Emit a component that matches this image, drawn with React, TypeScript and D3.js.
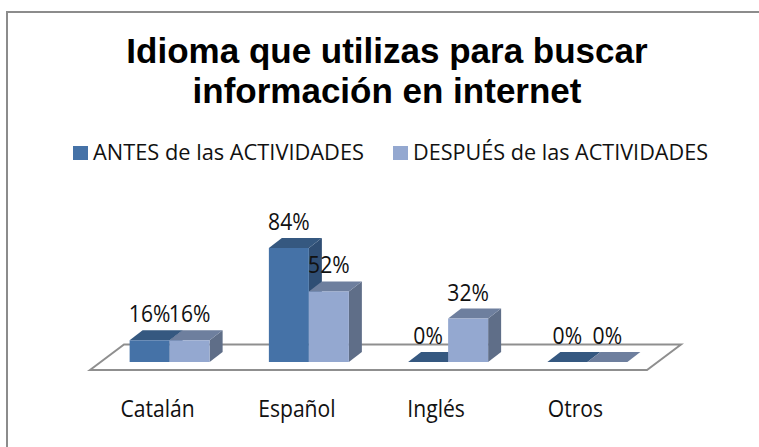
import React from 'react';
import * as d3 from 'd3';

const categories = ['Catalán', 'Español', 'Inglés', 'Otros'];
const seriesNames = ['ANTES de las ACTIVIDADES', 'DESPUÉS de las ACTIVIDADES'];
const antes = [16, 84, 0, 0];
const despues = [16, 52, 32, 0];
const titleLines = ['Idioma que utilizas para buscar', 'información en internet'];

const W = 759;
const H = 447;
const font = '"Open Sans", "Noto Sans", sans-serif';
const titleFont = '"Liberation Sans", Arial, sans-serif';

// front of the plot, the floor is drawn in fake 3D around it
const baseY = 362;
const depthX = 13;
const depthY = -10;
const squeeze = 0.88;

const x0 = d3.scaleBand().domain(categories).range([100, 657]);
const x1 = d3.scaleBand().domain(['a', 'd']).range([0, 80]);
const y = d3.scaleLinear().domain([0, 84]).range([baseY, 248]);

const colors = {
  a: { front: '#4572a7', top: '#355880', side: '#2f4e74' },
  d: { front: '#94a8d0', top: '#6e7f9e', side: '#5f6e88' },
};

const poly = (pts: [number, number][]) => d3.line()(pts) + 'Z';

function Bar({ x, w, v, c }: { x: number; w: number; v: number; c: typeof colors.a }) {
  const t = y(v);
  return (
    <g>
      {v > 0 && <path d={poly([[x + w, t], [x + w + depthX, t + depthY], [x + w + depthX, baseY + depthY], [x + w, baseY]])} fill={c.side} />}
      <path d={poly([[x, t], [x + depthX, t + depthY], [x + w + depthX, t + depthY], [x + w, t]])} fill={c.top} />
      {v > 0 && <rect x={x} y={t} width={w} height={baseY - t} fill={c.front} />}
    </g>
  );
}

function Label({ x, y, children }: { x: number; y: number; children: React.ReactNode }) {
  return (
    <text transform={`translate(${x},${y}) scale(${squeeze},1)`} textAnchor="middle" fontFamily={font} fontSize={24} fill="#111">
      {children}
    </text>
  );
}

export default function App() {
  const offset = (x0.bandwidth() - 80) / 2;
  const groupX = (cat: string) => (x0(cat) as number) + offset;
  const w = x1.bandwidth();
  return (
    <svg width={W} height={H} style={{ position: 'absolute', left: 0, top: 0, background: '#fff' }}>
      {/* only the top and left of the frame are in the picture */}
      <rect x={7} y={12} width={800} height={500} fill="#fff" stroke="#8c8c8c" strokeWidth={2} />

      {titleLines.map((l, i) => (
        <text key={l} x={387} y={63 + i * 40} textAnchor="middle" fontFamily={titleFont} fontWeight="bold" fontSize={35} fill="#000">
          {l}
        </text>
      ))}

      {seriesNames.map((s, i) => {
        const lx = [73, 393][i];
        return (
          <g key={s}>
            <rect x={lx} y={146} width={15} height={14} fill={i === 0 ? colors.a.front : colors.d.front} />
            <text x={lx + 20} y={160} fontFamily={font} fontSize={22} fill="#111" textLength={i === 0 ? 271 : 295} lengthAdjust="spacingAndGlyphs">
              {s}
            </text>
          </g>
        );
      })}

      <path d={poly([[90, 370], [124, 344.5], [681, 344.5], [647, 370]])} fill="none" stroke="#8f8f8f" strokeWidth={2} />

      {categories.map((cat, i) => (
        <g key={cat}>
          <Bar x={groupX(cat) + (x1('a') as number)} w={w} v={antes[i]} c={colors.a} />
          <Bar x={groupX(cat) + (x1('d') as number)} w={w} v={despues[i]} c={colors.d} />
        </g>
      ))}

      {categories.map((cat, i) => (
        <g key={cat}>
          <Label x={groupX(cat) + (x1('a') as number) + w / 2} y={y(antes[i]) - 18}>{antes[i]}%</Label>
          <Label x={groupX(cat) + (x1('d') as number) + w / 2} y={y(despues[i]) - 18}>{despues[i]}%</Label>
          <Label x={groupX(cat) + 28} y={417}>{cat}</Label>
        </g>
      ))}
    </svg>
  );
}
